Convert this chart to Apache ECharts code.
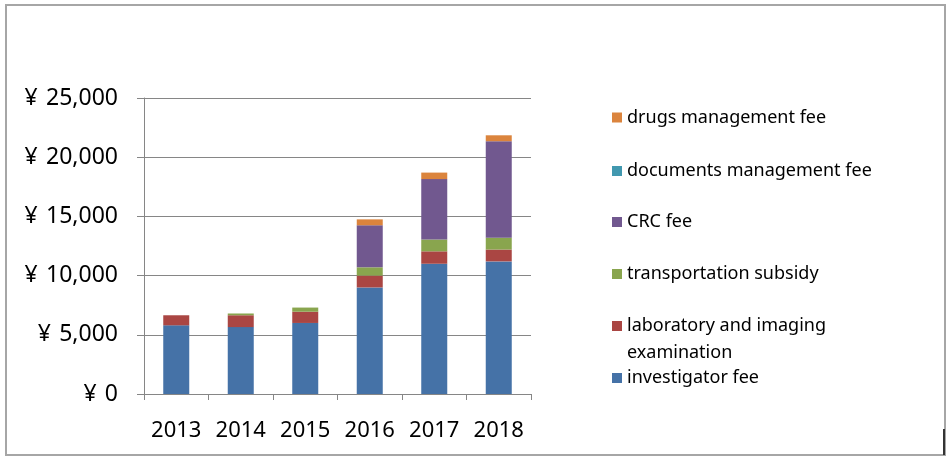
<!DOCTYPE html>
<html><head><meta charset="utf-8">
<script src="https://cdn.jsdelivr.net/npm/echarts@6/dist/echarts.min.js"></script>
<style>html,body{margin:0;padding:0;background:#fff}#c{width:946px;height:457px}</style>
</head><body><div id="c"></div>
<script>
const years = ['2013','2014','2015','2016','2017','2018'];
const investigatorFee = [5800, 5650, 6000, 9000, 11000, 11200];
const labImaging = [850, 1000, 950, 1000, 1050, 1000];
const transportation = [0, 150, 350, 700, 1000, 1000];
const crcFee = [0, 0, 0, 3550, 5100, 8150];
const documentsFee = [0, 0, 0, 0, 0, 0];
const drugsFee = [0, 0, 0, 500, 550, 500];
const yTicks = [0, 5000, 10000, 15000, 20000, 25000];

const names = ['investigator fee','laboratory and imaging examination','transportation subsidy','CRC fee','documents management fee','drugs management fee'];
const values = [investigatorFee, labImaging, transportation, crcFee, documentsFee, drugsFee];
const colors = ['#4572A7','#AA4643','#89A54E','#71588F','#4198AF','#DB843D'];
const FONT = 'Noto Sans';
const LFS = 18;
const legendY = {'drugs management fee':117.5,'documents management fee':171,'CRC fee':222,'transportation subsidy':274,'laboratory and imaging examination':326,'investigator fee':378};

const legends = names.map(n => ({
  data:[n], orient:'vertical', left:612, top: legendY[n] - 10, padding:0,
  itemWidth:10, itemHeight:10, itemGap:0, icon:'rect', selectedMode:false,
  formatter: n === 'laboratory and imaging examination' ? 'laboratory and imaging' : '{name}',
  textStyle: {fontFamily:FONT, fontSize:LFS, color:'#000', lineHeight:20}
}));

const chart = echarts.init(document.getElementById('c'), null, {renderer:'canvas'});
chart.setOption({
  animation:false,
  backgroundColor:'#fff',
  color: colors,
  legend: legends,
  grid:{left:144, right:415, top:98, bottom:63, containLabel:false},
  xAxis:{type:'category', data:years,
    axisLine:{lineStyle:{color:'#868686', width:1}},
    axisTick:{show:true, length:6, alignWithLabel:false, lineStyle:{color:'#868686'}},
    axisLabel:{interval:0, fontFamily:FONT, fontSize:22, color:'#000', margin:26}},
  yAxis:{type:'value', min:0, max:25000, interval:5000,
    axisLine:{show:true, lineStyle:{color:'#868686', width:1}},
    axisTick:{show:true, length:7, lineStyle:{color:'#868686'}},
    splitLine:{lineStyle:{color:'#868686', width:1}},
    axisLabel:{fontFamily:FONT, fontSize:23, color:'#000', margin:26,
      formatter: v => '¥ \u200A' + v.toLocaleString('en-US')}},
  series: names.map((n,i) => ({name:n, type:'bar', stack:'total', barWidth:26,
    data: values[i], itemStyle:{color:colors[i]}})),
  graphic:[
    {type:'rect', shape:{x:6, y:5, width:939, height:450}, style:{fill:'none', stroke:'#a6a6a6', lineWidth:2}, silent:true},
    {type:'line', shape:{x1:944, y1:429, x2:944, y2:455}, style:{stroke:'#333', lineWidth:2}, silent:true},
    {type:'text', left:627, top:352 - 8, style:{text:'examination', fontFamily:FONT, fontSize:LFS, fill:'#000'}, silent:true}
  ]
});
</script></body></html>
